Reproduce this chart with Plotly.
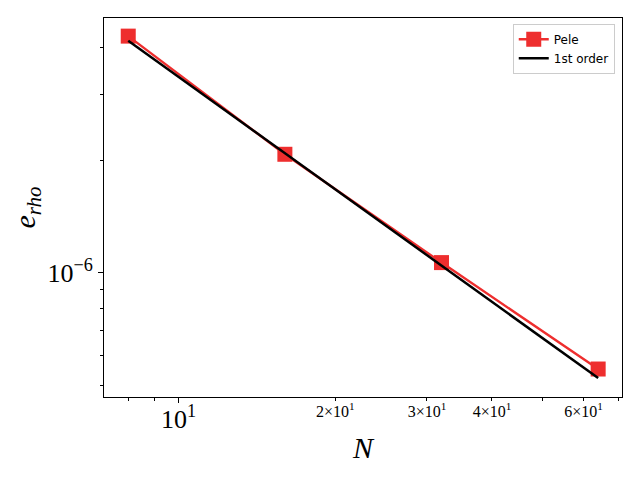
import plotly.graph_objects as go

# grid sizes and errors
N = [8, 16, 32, 64]
err_pele = [4.30e-6, 2.075e-6, 1.064e-6, 5.52e-7]
err_first = [4.18e-6, 2.09e-6, 1.045e-6, 5.22e-7]

x_major = [10]
x_major_text = ["10<sup>1</sup>"]
x_sub = [20, 30, 40, 60]
x_sub_text = ["2×10<sup>1</sup>", "3×10<sup>1</sup>", "4×10<sup>1</sup>", "6×10<sup>1</sup>"]
x_minor = [8, 9, 50, 70]
y_tickvals = [1e-6]
y_ticktext = ["10<sup>−6</sup>"]
y_minor = [5e-7, 6e-7, 7e-7, 8e-7, 9e-7, 2e-6, 3e-6, 4e-6]

red = "#EE2E2E"
xrange_log = [0.8565, 1.852]

fig = go.Figure()
fig.add_trace(go.Scatter(
    x=N, y=err_pele, name="Pele", mode="lines+markers",
    line=dict(color=red, width=2.4),
    marker=dict(symbol="square", size=15, color=red),
))
fig.add_trace(go.Scatter(
    x=N, y=err_first, name="1st order", mode="lines",
    line=dict(color="black", width=2.5),
))
# carrier for the second x axis with the small "k×10^1" labels
fig.add_trace(go.Scatter(
    x=N, y=err_pele, xaxis="x2", mode="none",
    showlegend=False, hoverinfo="skip",
))

serif = "Liberation Serif"
# the page puts the figure 8px in from the top-left corner, so margins allow for it
fig.update_layout(
    width=640, height=480,
    margin=dict(l=96, r=26, t=10, b=91),
    plot_bgcolor="white", paper_bgcolor="white",
    font=dict(family=serif, color="black"),
    legend=dict(
        x=0.986, y=0.985, xanchor="right", yanchor="top",
        bgcolor="white", bordercolor="#cccccc", borderwidth=1,
        font=dict(family="DejaVu Sans", size=12),
    ),
    xaxis=dict(
        type="log", range=xrange_log, automargin=False,
        tickvals=x_major, ticktext=x_major_text,
        tickfont=dict(size=26), ticks="outside", ticklen=5, tickcolor="black",
        ticklabelstandoff=-6,
        minor=dict(tickvals=x_minor, ticks="outside", ticklen=3, tickcolor="black"),
        showgrid=False, zeroline=False,
        showline=True, linecolor="black", linewidth=1, mirror=True,
        title=dict(text="<i>N</i>", font=dict(size=30), standoff=3),
    ),
    xaxis2=dict(
        type="log", range=xrange_log, automargin=False,
        overlaying="x", side="bottom", anchor="y",
        tickvals=x_sub, ticktext=x_sub_text,
        tickfont=dict(size=16), ticks="outside", ticklen=3, tickcolor="black",
        ticklabelstandoff=-3,
        showgrid=False, zeroline=False, showline=False,
    ),
    yaxis=dict(
        type="log", range=[-6.333, -5.318], automargin=False,
        tickvals=y_tickvals, ticktext=y_ticktext,
        tickfont=dict(size=26), ticks="outside", ticklen=5, tickcolor="black",
        minor=dict(tickvals=y_minor, ticks="outside", ticklen=3, tickcolor="black"),
        showgrid=False, zeroline=False,
        showline=True, linecolor="black", linewidth=1, mirror=True,
        title=dict(text="<i>e</i><sub><i>rho</i></sub>", font=dict(size=30), standoff=10),
    ),
)

fig.write_html("out.html")
